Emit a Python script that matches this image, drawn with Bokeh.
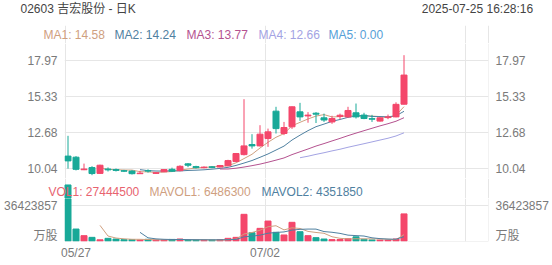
import numpy as np
import pandas as pd
from bokeh.plotting import figure
from bokeh.layouts import column
from bokeh.models import (Range1d, FixedTicker, LinearAxis, Grid, Label,
                          PrintfTickFormatter, ColumnDataSource)
from bokeh.embed import file_html
from bokeh.resources import INLINE

# ---------------------------------------------------------------- data
stock_title = "02603 吉宏股份 - 日K"
timestamp = "2025-07-25  16:28:16"

dates = ["05/27", "05/28", "05/29", "05/30",
         "06/02", "06/03", "06/04", "06/05", "06/06",
         "06/09", "06/10", "06/11", "06/12", "06/13",
         "06/16", "06/17", "06/18", "06/19", "06/20",
         "06/23", "06/24", "06/25", "06/26", "06/27",
         "06/30",
         "07/02", "07/03", "07/04",
         "07/07", "07/08", "07/09", "07/10", "07/11",
         "07/14", "07/15", "07/16", "07/17", "07/18",
         "07/21", "07/22", "07/23", "07/24", "07/25"]

opens = [10.95, 10.87, 9.95, 10.11, 9.68, 10.00, 9.96, 9.88, 9.85, 9.66,
         9.88, 9.68, 9.80, 9.98, 9.88, 10.38, 10.18, 10.10, 10.16, 10.15,
         10.24, 10.55, 11.06, 11.80, 11.70, 12.24, 14.25, 12.61, 13.10, 14.20,
         13.90, 14.10, 13.76, 13.46, 13.86, 13.83, 14.13, 13.96, 13.70, 13.52,
         13.78, 13.83, 14.76]
highs = [12.44, 10.95, 10.40, 10.21, 10.32, 10.12, 10.04, 9.94, 9.92, 9.87,
         9.98, 9.75, 9.98, 10.10, 10.28, 10.44, 10.24, 10.20, 10.22, 10.30,
         10.68, 11.18, 15.13, 12.56, 13.22, 12.97, 14.57, 13.46, 14.60, 14.86,
         14.18, 14.18, 14.07, 13.91, 14.07, 14.57, 14.81, 14.13, 13.98, 13.80,
         14.00, 14.90, 18.36]
lows = [10.03, 9.90, 9.92, 9.55, 9.65, 9.82, 9.82, 9.78, 9.60, 9.64,
        9.74, 9.64, 9.78, 9.78, 9.84, 10.14, 10.04, 10.05, 10.06, 10.12,
        10.20, 10.52, 11.00, 11.50, 11.66, 11.63, 12.61, 12.49, 12.95, 13.54,
        13.40, 13.38, 13.46, 13.32, 13.66, 13.76, 13.71, 13.66, 13.46, 13.48,
        13.66, 13.80, 14.74]
closes = [10.60, 9.98, 10.00, 9.67, 10.28, 9.94, 9.90, 9.84, 9.66, 9.70,
          9.85, 9.73, 9.96, 9.84, 10.20, 10.28, 10.10, 10.14, 10.12, 10.26,
          10.62, 11.14, 11.70, 11.70, 12.56, 12.73, 12.97, 13.05, 14.57, 13.83,
          13.96, 14.03, 13.60, 13.71, 13.95, 14.30, 13.83, 13.71, 13.66, 13.76,
          13.83, 14.75, 16.90]
volumes = [56700000, 12100000, 5400000, 3700000, 1200000, 2700000, 2000000,
           1400000, 1400000, 1000000, 1700000, 1000000, 1100000, 1600000,
           2000000, 1000000, 900000, 800000, 900000, 1300000, 2700000,
           3700000, 27000000, 8400000, 12800000, 20200000, 8800000, 6100000,
           18900000, 9400000, 5400000, 3400000, 2000000, 1400000, 1500000,
           2300000, 4200000, 1687000, 1102000, 948000, 899000, 2038000,
           27444500]

price_ticks = [10.04, 12.68, 15.33, 17.97]
volume_tick = 36423857
volume_unit = "万股"

ma_periods = [5, 10, 20, 30, 60]
mavol_periods = [5, 10]

# --------------------------------------------------------------- style
FONT = "Liberation Sans"
FONT_CJK = "Liberation Sans, Noto Sans CJK SC"
AXIS_GREY = "#7a7a7a"
TEXT_DARK = "#444444"
GRID = "#e6e6e6"
UP = "#f4476b"
DOWN = "#18a998"
MA_COLORS = ["#cfa07f", "#4f80a0", "#b4528f", "#a3a3e3", "#56a0d8"]
VOL_COLOR = "#e8636f"

W = 552
SIDE = 64                      # room for the tick labels on either side
HEAD_H, MA_ROW_H, PRICE_H = 25, 18, 135
VOL_ROW_H, VOL_H, DATE_AXIS_H = 20, 67, 24

# shared day axis; grid lines sit on the left edge of a day's slot
x_range = Range1d(-0.4375, 52.5625)
day_px = (W - 2 * SIDE) / (x_range.end - x_range.start)
wide_x = Range1d(x_range.start - SIDE / day_px, x_range.end + SIDE / day_px)
x_grid = [-0.375, 24.625, 49.625, 52.5]
date_label_at = {1.0: dates[0], 24.625: dates[25]}  # first label kept inside the frame

# price scale (value per pixel) and the strip above it that holds the MA legend
price_px = 13.62
price_lo = 9.306
price_hi = price_lo + PRICE_H / price_px
# volume scale and the strip above it that holds the volume legend
vol_px = 1.01177e6
vol_lo = -0.5e6
vol_hi = vol_lo + (VOL_H - DATE_AXIS_H) * vol_px

n = len(dates)
idx = np.arange(n)
up = [c >= o for o, c in zip(opens, closes)]
src = ColumnDataSource(dict(
    x=idx, o=opens, h=highs, l=lows, c=closes,
    top=[max(o, c) for o, c in zip(opens, closes)],
    bottom=[min(o, c) for o, c in zip(opens, closes)],
    color=[UP if u else DOWN for u in up],
    vol=volumes,
))


def style_axis(ax, standoff=7):
    ax.axis_line_color = None
    ax.major_tick_line_color = None
    ax.minor_tick_line_color = None
    ax.major_tick_out = 0
    ax.major_tick_in = 0
    ax.major_label_standoff = standoff
    ax.major_label_text_font = FONT_CJK
    ax.major_label_text_font_size = "12px"
    ax.major_label_text_color = AXIS_GREY
    return ax


def canvas_text(fig, x, y, text, color, align="left", font=FONT):
    fig.add_layout(Label(x=x, y=y, x_units="canvas", y_units="canvas",
                         text=text, text_color=color, text_font=font,
                         text_font_size="12px", text_align=align,
                         text_baseline="middle"))


def base_fig(height, xr, yr, **kw):
    opts = dict(min_border=0)
    opts.update(kw)
    return figure(width=W, height=height, x_range=xr, y_range=yr,
                  x_axis_type=None, y_axis_type=None, title=None,
                  toolbar_location=None, output_backend="svg",
                  outline_line_color=None, **opts)


def strip_fig(height, xr, yr):
    # full-width strip: its frame covers the whole canvas, so it keeps its own edges
    return base_fig(height, xr, yr, frame_align=False)


def day_grid(fig):
    fig.add_layout(Grid(dimension=0, ticker=FixedTicker(ticks=x_grid),
                        grid_line_color=GRID))


# -------------------------------------------------------------- header
head = strip_fig(HEAD_H, Range1d(0, W), Range1d(0, HEAD_H))
canvas_text(head, 20, 8, stock_title, TEXT_DARK, font=FONT_CJK)
canvas_text(head, 536, 8, timestamp, TEXT_DARK, align="right")

# --------------------------------------------------------- price panel
close_s = pd.Series(closes, dtype=float)
ma_series = [close_s.rolling(period).mean() for period in ma_periods]
ma_last = [0.0 if np.isnan(m.iloc[-1]) else m.iloc[-1] for m in ma_series]

ma_row = strip_fig(MA_ROW_H, wide_x,
                   Range1d(price_hi, price_hi + MA_ROW_H / price_px))
day_grid(ma_row)
for i, (x, val, color) in enumerate(zip([43, 114, 186, 258, 328], ma_last, MA_COLORS)):
    canvas_text(ma_row, x, 9, f"MA{i + 1}: {val:.2f}", color)

p = base_fig(PRICE_H, x_range, Range1d(price_lo, price_hi),
             min_border_left=SIDE, min_border_right=SIDE)
for side in ("left", "right"):
    p.add_layout(style_axis(LinearAxis(
        ticker=FixedTicker(ticks=price_ticks),
        formatter=PrintfTickFormatter(format="%.2f"))), side)
p.add_layout(Grid(dimension=1, ticker=FixedTicker(ticks=price_ticks),
                  grid_line_color=GRID))
day_grid(p)

for ma, color in zip(ma_series, MA_COLORS):
    if ma.notna().any():
        p.line(idx, ma.to_numpy(), line_color=color, line_width=1)

p.segment(x0="x", y0="l", x1="x", y1="h", line_color="color",
          line_width=1, source=src)
p.vbar(x="x", width=0.75, top="top", bottom="bottom", fill_color="color",
       line_color="color", line_width=1, source=src)

# -------------------------------------------------------- volume panel
vol_s = pd.Series(volumes, dtype=float)
mavol_series = [vol_s.rolling(period).mean() for period in mavol_periods]

vol_row = strip_fig(VOL_ROW_H, wide_x,
                    Range1d(vol_hi, vol_hi + VOL_ROW_H * vol_px))
day_grid(vol_row)
vol_row.vbar(x="x", width=0.75, top="vol", bottom=0, fill_color="color",
             line_color="color", line_width=1, source=src)
canvas_text(vol_row, 48, 13, f"VOL1: {volumes[-1]:.0f}", VOL_COLOR)
canvas_text(vol_row, 149, 13, f"MAVOL1: {mavol_series[0].iloc[-1]:.0f}", MA_COLORS[0])
canvas_text(vol_row, 261, 13, f"MAVOL2: {mavol_series[1].iloc[-1]:.0f}", MA_COLORS[1])

v = base_fig(VOL_H, x_range, Range1d(vol_lo, vol_hi),
             min_border_left=SIDE, min_border_right=SIDE,
             min_border_bottom=DATE_AXIS_H)
unit_at = 5000000  # unit caption rests just above the baseline
for side in ("left", "right"):
    v.add_layout(style_axis(LinearAxis(
        ticker=FixedTicker(ticks=[unit_at, volume_tick]),
        major_label_overrides={unit_at: volume_unit,
                               volume_tick: str(volume_tick)})), side)
v.add_layout(style_axis(LinearAxis(
    ticker=FixedTicker(ticks=list(date_label_at)),
    major_label_overrides=date_label_at), standoff=4), "below")
v.add_layout(Grid(dimension=1, ticker=FixedTicker(ticks=[0, volume_tick]),
                  grid_line_color=GRID))
day_grid(v)

v.vbar(x="x", width=0.75, top="vol", bottom=0, fill_color="color",
       line_color="color", line_width=1, source=src)
for mv, color in zip(mavol_series, MA_COLORS[:2]):
    v.line(idx, mv.to_numpy(), line_color=color, line_width=1)

layout = column(head, ma_row, p, vol_row, v, spacing=0)
open("out.html", "w").write(file_html(layout, INLINE))
